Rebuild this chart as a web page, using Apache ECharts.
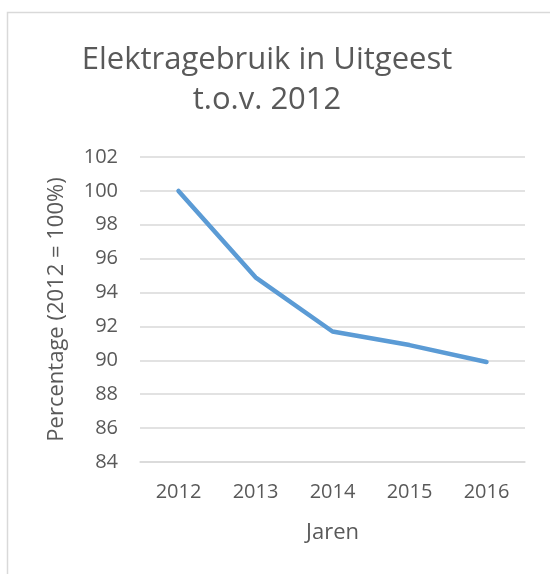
<!DOCTYPE html>
<html>
<head>
<meta charset="utf-8">
<script src="https://cdn.jsdelivr.net/npm/echarts@6/dist/echarts.min.js"></script>
<style>
  html, body { margin: 0; padding: 0; background: #fff; }
  #main { width: 550px; height: 574px; }
</style>
</head>
<body>
<div id="main"></div>
<script>
// data
var jaren = ['2012', '2013', '2014', '2015', '2016'];
var percentage = [100, 94.9, 91.7, 90.9, 89.9];
var yMin = 84, yMax = 102, yStep = 2;

var textColor = '#595959';
var font = 'Open Sans';

var myChart = echarts.init(document.getElementById('main'));
myChart.setOption({
  animation: false,
  backgroundColor: '#fff',
  graphic: [{
    type: 'rect',
    shape: { x: 7.5, y: 12.5, width: 600, height: 620 },
    style: { fill: 'none', stroke: '#D9D9D9', lineWidth: 1.5 },
    silent: true
  }],
  title: {
    text: 'Elektragebruik in Uitgeest\nt.o.v. 2012',
    left: 267,
    top: 40,
    textAlign: 'center',
    padding: 0,
    textStyle: {
      color: textColor,
      fontFamily: font,
      fontSize: 31,
      fontWeight: 'normal',
      lineHeight: 40
    }
  },
  grid: {
    left: 140,
    right: 25,
    top: 157,
    bottom: 112,
    containLabel: false
  },
  xAxis: {
    type: 'category',
    data: jaren,
    boundaryGap: true,
    name: 'Jaren',
    nameLocation: 'middle',
    nameGap: 60,
    nameTextStyle: { color: textColor, fontFamily: font, fontSize: 22 },
    axisLine: { lineStyle: { color: '#D9D9D9', width: 1.5 } },
    axisTick: { show: false },
    axisLabel: { color: textColor, fontFamily: font, fontSize: 20, margin: 20 }
  },
  yAxis: {
    type: 'value',
    min: yMin,
    max: yMax,
    interval: yStep,
    name: 'Percentage (2012 = 100%)',
    nameLocation: 'middle',
    nameGap: 72,
    nameTextStyle: { color: textColor, fontFamily: font, fontSize: 22 },
    axisLine: { show: false },
    axisTick: { show: false },
    axisLabel: { color: textColor, fontFamily: font, fontSize: 20, margin: 22 },
    splitLine: { lineStyle: { color: '#D9D9D9', width: 1.5 } }
  },
  series: [{
    type: 'line',
    data: percentage,
    symbol: 'none',
    lineStyle: { color: '#5B9BD5', width: 4.5, cap: 'round', join: 'round' }
  }]
});
</script>
</body>
</html>
